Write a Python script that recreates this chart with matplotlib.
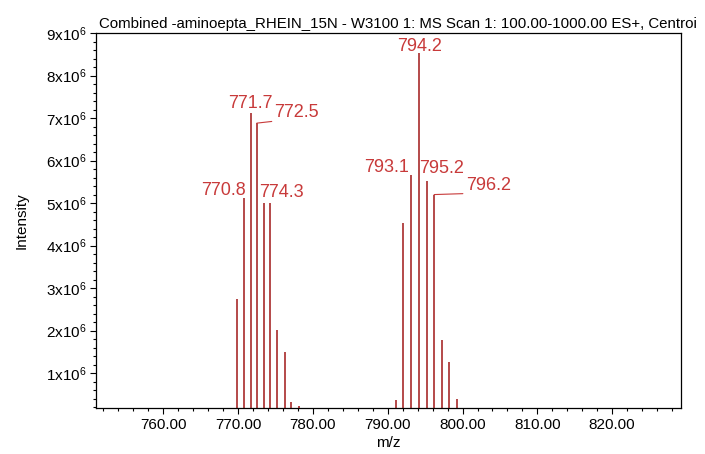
import numpy as np
import matplotlib.pyplot as plt
from matplotlib.ticker import MultipleLocator, FixedLocator

# Centroided peaks (m/z, intensity in units of 1e6 counts)
mz_a = [769.9, 770.8, 771.7, 772.5, 773.4, 774.3, 775.2, 776.2, 777.1, 778.1]
int_a = [2.75, 5.11, 7.11, 6.88, 5.01, 5.01, 2.02, 1.50, 0.32, 0.22]
mz_b = [791.1, 792.1, 793.1, 794.2, 795.2, 796.2, 797.2, 798.2, 799.2]
int_b = [0.36, 4.54, 5.65, 8.53, 5.53, 5.20, 1.78, 1.26, 0.38]

# Peak labels: m/z, offset of the label in pixels, whether a leader line is drawn
label_mz = [770.8, 771.7, 772.5, 774.3, 793.1, 794.2, 795.2, 796.2]
label_dx = [-21, 0, 40, 11, -24, 0, 15, 54]
label_dy = [3, 5, 6, 6, 3, 2, 8, 5]
label_leader = [False, False, True, False, False, False, False, True]

title = "Combined -aminoepta_RHEIN_15N - W3100 1: MS Scan 1: 100.00-1000.00 ES+, Centroi"
ytick_vals = [1, 2, 3, 4, 5, 6, 7, 8, 9]
xtick_vals = [760, 770, 780, 790, 800, 810, 820]

plt.rcParams['font.family'] = ['Liberation Sans', 'DejaVu Sans']
plt.rcParams['mathtext.default'] = 'regular'

bar_color = '#a82a2a'
label_color = '#c83a3a'

fig = plt.figure(figsize=(7.05, 4.54), dpi=100)
ax = fig.add_axes([96 / 705, 46 / 454, 585 / 705, 375 / 454])

mz = np.array(mz_a + mz_b)
inten = np.array(int_a + int_b) * 1e6
ymin = 0.18e6
ax.vlines(mz, ymin, inten, color=bar_color, linewidth=1.2)

lookup = dict(zip(mz, inten))
for m, dx, dy, lead in zip(label_mz, label_dx, label_dy, label_leader):
    y = lookup[m]
    arrow = None
    if lead:
        arrow = dict(arrowstyle='-', color=label_color, lw=0.8,
                     shrinkA=0, shrinkB=0, relpos=(0.0, 0.0))
    ax.annotate(f"{m:.1f}", xy=(m, y), xytext=(dx, dy), textcoords='offset pixels',
                ha='center', va='baseline', color=label_color, fontsize=13,
                arrowprops=arrow)

ax.set_xlim(751.0, 829.2)
ax.set_ylim(ymin, 9e6)

ax.xaxis.set_major_locator(FixedLocator(xtick_vals))
ax.set_xticklabels([f"{v:.2f}" for v in xtick_vals])
ax.xaxis.set_minor_locator(MultipleLocator(2))
ax.yaxis.set_major_locator(FixedLocator([v * 1e6 for v in ytick_vals]))
ax.set_yticklabels([f"{v}x10$^{{6}}$" for v in ytick_vals])
ax.yaxis.set_minor_locator(MultipleLocator(0.2e6))

ax.tick_params(axis='both', which='major', direction='out', length=4, width=0.8,
               labelsize=11, pad=3)
ax.tick_params(axis='both', which='minor', direction='out', length=2.2, width=0.8)
for sp in ax.spines.values():
    sp.set_linewidth(0.9)

ax.set_xlabel("m/z", fontsize=11, labelpad=3)
ax.set_ylabel("Intensity", fontsize=11, labelpad=12)
ax.text(0.005, 1.005, title, transform=ax.transAxes, ha='left', va='bottom', fontsize=10.85)

fig.savefig("out.png", dpi=100)
